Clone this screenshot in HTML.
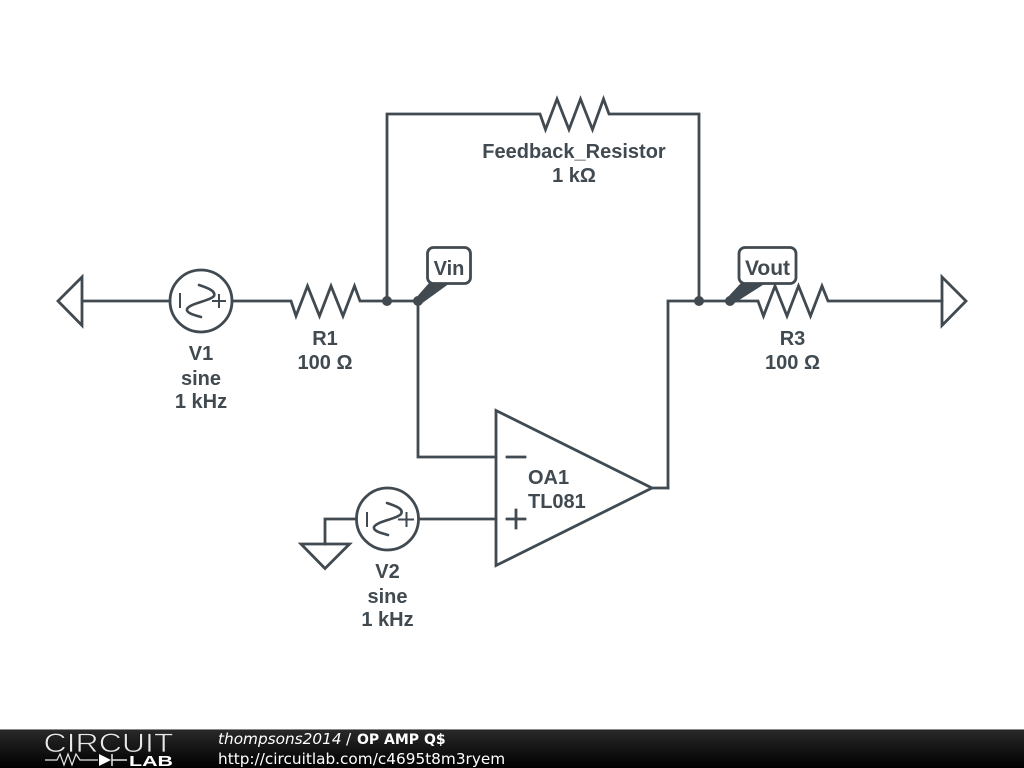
<!DOCTYPE html>
<html>
<head>
<meta charset="utf-8">
<style>
html,body{margin:0;padding:0;background:#fff}
body{width:1024px;height:768px;overflow:hidden;position:relative}
svg{position:absolute;left:0;top:0}
.l{font-family:"Liberation Sans",sans-serif;font-weight:bold;font-size:20px;fill:#404a50;text-anchor:middle}
.w{fill:none;stroke:#404a50;stroke-width:2.8;stroke-linejoin:miter;stroke-linecap:square}
.f{font-family:"DejaVu Sans",sans-serif;font-size:15.3px;fill:#fff}
</style>
</head>
<body>
<svg width="1024" height="768" viewBox="0 0 1024 768" xmlns="http://www.w3.org/2000/svg">
<defs>
<linearGradient id="g" x1="0" y1="0" x2="0" y2="1">
<stop offset="0" stop-color="#2a2a2a"/>
<stop offset="1" stop-color="#000"/>
</linearGradient>
</defs>
<rect width="1024" height="768" fill="#fff"/>

<!-- Wires -->
<path class="w" d="M387,301V114H540L545.500,129.500L557,99L569,129.500L580.500,99L592.500,129.500L603.500,99L609,114H699V301"/>
<path class="w" d="M83,301H170"/>
<path class="w" d="M232,301H291L296,316L307.500,286L319.500,316L331,286L343,316L354.500,286L360,301H418"/>
<path class="w" d="M668,488V301H758L763.500,316L775,286L787,316L798.500,286L810.500,316L822,286L828,301H942"/>
<path class="w" d="M418,301V457H496"/>
<path class="w" d="M419,519H496"/>
<path class="w" d="M652,488H668"/>
<path class="w" d="M356,519H325V544"/>

<!-- Ports -->
<path class="w" d="M82,277V325.500L58,301Z"/>
<path class="w" d="M942,277V325.500L966,301Z"/>
<path class="w" d="M301,544H349.500L325,568.500Z"/>

<!-- V1 -->
<circle class="w" cx="201" cy="301" r="31"/>
<path class="w" style="stroke-width:2" d="M180,294V307M213,301H225M219,295V307"/>
<path class="w" style="stroke-width:2.6;stroke-linecap:round" d="M199,285C208,288 216,291 214,296C210,301 190,303 187,309C186,313 194,315 201,317"/>

<!-- V2 -->
<circle class="w" cx="387.500" cy="519" r="31"/>
<path class="w" style="stroke-width:2" d="M367,513V526M399,519.500H413M406.500,513V526"/>
<path class="w" style="stroke-width:2.6;stroke-linecap:round" d="M387,503C396,506 404,509 401,514C397,519 377,521 374,527C373,531 381,533 388,535"/>

<!-- Op amp -->
<path class="w" d="M496,410.500V565.500L652,488Z"/>
<path class="w" d="M507,457H525M507,519H525M516,510V528"/>

<!-- Junctions -->
<circle cx="387" cy="301" r="5" fill="#404a50"/>
<circle cx="418" cy="301" r="5" fill="#404a50"/>
<circle cx="699" cy="301" r="5" fill="#404a50"/>
<circle cx="730" cy="301" r="5" fill="#404a50"/>

<!-- Vin flag -->
<path d="M415,299L429,283H450L421,304Z" fill="#404a50"/>
<rect x="427.500" y="247.500" width="43" height="36" rx="6" fill="#fff" stroke="#404a50" stroke-width="2.800"/>
<text class="l" x="449" y="275">Vin</text>

<!-- Vout flag -->
<path d="M727,298L741,283H766L733,304Z" fill="#404a50"/>
<rect x="739" y="247.500" width="57" height="36" rx="6" fill="#fff" stroke="#404a50" stroke-width="2.800"/>
<text class="l" x="767.500" y="275" style="font-size:21px">Vout</text>

<!-- Labels -->
<text class="l" x="574" y="158">Feedback_Resistor</text>
<text class="l" x="574" y="182">1 kΩ</text>
<text class="l" x="325" y="345">R1</text>
<text class="l" x="325" y="369">100 Ω</text>
<text class="l" x="201" y="360">V1</text>
<text class="l" x="201" y="385">sine</text>
<text class="l" x="201" y="408">1 kHz</text>
<text class="l" x="792.500" y="345">R3</text>
<text class="l" x="792.500" y="369">100 Ω</text>
<text class="l" x="387.500" y="578">V2</text>
<text class="l" x="387.500" y="603">sine</text>
<text class="l" x="387.500" y="626">1 kHz</text>
<text class="l" x="528" y="484" style="text-anchor:start">OA1</text>
<text class="l" x="528" y="508" style="text-anchor:start">TL081</text>

<!-- Footer -->
<rect x="0" y="729" width="1024" height="39" fill="url(#g)"/>
<rect x="0" y="729" width="1024" height="1" fill="#8a8a8a"/>
<text x="43.500" y="752" font-family="Liberation Sans,sans-serif" font-size="26.500" fill="#e8e8e8" stroke="#161616" stroke-width="0.700" textLength="130" lengthAdjust="spacingAndGlyphs">CIRCUIT</text>
<path d="M45,760H57L60,754L64,765L68,754L72,765L76,754L80,760H98" fill="none" stroke="#e8e8e8" stroke-width="1.200"/>
<path d="M99,754V766L111,760Z" fill="#fff"/>
<path d="M112,754V766M112,760H127" fill="none" stroke="#e8e8e8" stroke-width="1.500"/>
<text x="129" y="766" font-family="Liberation Sans,sans-serif" font-weight="bold" font-size="15" fill="#fff" textLength="44" lengthAdjust="spacingAndGlyphs">LAB</text>
<text class="f" x="218" y="744" font-style="italic">thompsons2014</text>
<text class="f" x="346" y="744">/</text>
<text class="f" x="357" y="744" font-weight="bold" style="font-size:14px">OP AMP Q$</text>
<text class="f" x="218" y="764">http://circuitlab.com/c4695t8m3ryem</text>
</svg>
</body>
</html>
